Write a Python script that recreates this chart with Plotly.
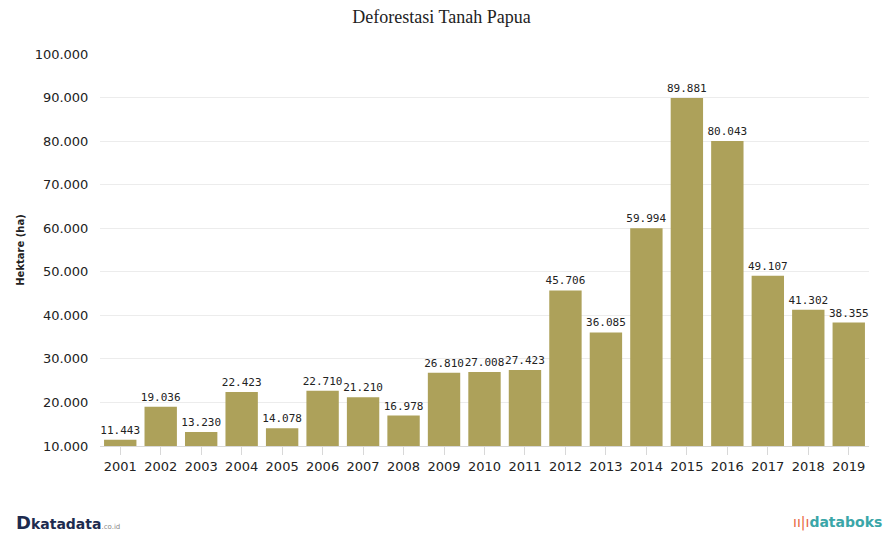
import plotly.graph_objects as go

years = [str(y) for y in range(2001, 2020)]
values = [11443, 19036, 13230, 22423, 14078, 22710, 21210, 16978, 26810, 27008,
          27423, 45706, 36085, 59994, 89881, 80043, 49107, 41302, 38355]
y_ticks = [10000, 20000, 30000, 40000, 50000, 60000, 70000, 80000, 90000, 100000]

fig = go.Figure()
fig.add_trace(go.Bar(
    x=years, y=values,
    marker=dict(color="#ADA15A", line=dict(width=0)),
    texttemplate="%{y:,.0f}", textposition="outside", cliponaxis=False,
    constraintext="none",
    textfont=dict(family="DejaVu Sans Mono", size=11, color="#222"),
))
fig.update_layout(
    width=883, height=541,
    separators=",.",
    paper_bgcolor="white", plot_bgcolor="white",
    margin=dict(l=100, r=14, t=54, b=95),
    bargap=0.2,
    showlegend=False,
    title=dict(text="Deforestasi Tanah Papua", x=0.5, xanchor="center", y=0.98, yanchor="top",
               font=dict(family="Liberation Serif", size=18, color="#222")),
    yaxis=dict(range=[10000, 100000], tickvals=y_ticks, tickformat=",.0f",
               showgrid=True, gridcolor="#ECECEC", gridwidth=1, zeroline=False,
               tickfont=dict(family="DejaVu Sans", size=13, color="#222"),
               ticks="outside", ticklen=8, tickcolor="white",
               title=dict(text="<b>Hektare (ha)</b>", font=dict(family="DejaVu Sans", size=10, color="#222"), standoff=8)),
    xaxis=dict(showline=True, linecolor="#D8D8D8", linewidth=1,
               ticks="outside", ticklen=8, tickcolor="#D8D8D8",
               tickfont=dict(family="DejaVu Sans", size=13, color="#222")),
)
fig.add_annotation(xref="paper", yref="paper", x=-0.112, y=-0.195, xanchor="left", yanchor="middle",
                   showarrow=False,
                   text="<b><span style='font-size:18px'>D</span></b><b>katadata</b><span style='font-size:7px;color:#888'>.co.id</span>",
                   font=dict(family="DejaVu Sans", size=14, color="#1D2B4F"))
fig.add_annotation(xref="paper", yref="paper", x=1.02, y=-0.195, xanchor="right", yanchor="middle",
                   showarrow=False,
                   text="<span style='color:#E8643C'>ıı|ı</span><b>databoks</b>",
                   font=dict(family="DejaVu Sans", size=14, color="#3AA6A8"))
fig.write_html("out.html")
